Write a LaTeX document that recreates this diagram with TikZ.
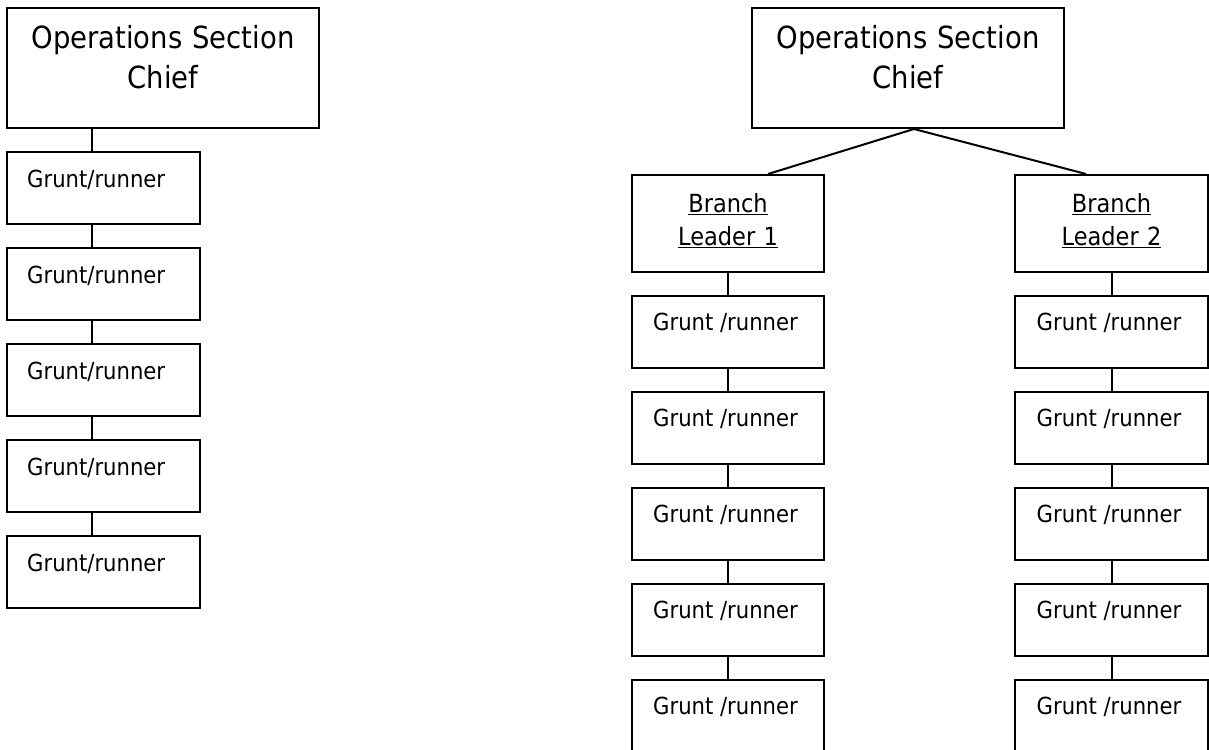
\documentclass[tikz,border=0pt]{standalone}
\usepackage{fontspec}
\setmainfont{DejaVu Sans}[FakeStretch=0.9]
\usetikzlibrary{calc}
\begin{document}
\begin{tikzpicture}[x=1pt,y=-1pt,
  boxbase/.style={draw=black, line width=2pt, rectangle, inner sep=0pt, anchor=north west},
  chiefbox/.style={boxbase, minimum width=312pt, minimum height=120pt},
  brbox/.style={boxbase, minimum width=192pt, minimum height=97pt},
  grbox/.style={boxbase, minimum width=193pt, minimum height=71.5pt},
  conn/.style={draw=black, line width=2pt},
  chieftxt/.style={inner sep=0pt, align=center, text width=312pt, anchor=base, font=\fontsize{30.5}{40}\selectfont},
  brtxt/.style={inner sep=0pt, align=center, text width=192pt, anchor=base, font=\fontsize{25}{33}\selectfont},
  grtxt/.style={inner sep=0pt, font=\fontsize{23.5}{28}\selectfont}]
\fill[white] (0,0) rectangle (1209,749);
\useasboundingbox (0,0) rectangle (1209,749);

% ---------- left chart ----------
\node[chiefbox] (lc) at (6,7) {};
\node[chieftxt] (lctxt) at ($(lc.north)+(0,42)$) {Operations Section\\Chief};
\coordinate (lx) at (92,0);
\foreach \k in {1,...,5}{
  \node[grbox] (g\k) at (6,{151+96*(\k-1)}) {};
  \node[grtxt, anchor=base west] (g\k txt) at ($(g\k.north west)+(21,36)$) {Grunt/runner};
}
\draw[conn] (lc.south -| lx) -- (g1.north -| lx);
\foreach \k in {1,...,4}{
  \pgfmathtruncatemacro{\n}{\k+1}
  \draw[conn] (g\k.south -| lx) -- (g\n.north -| lx);
}

% ---------- right chart ----------
\node[chiefbox] (rc) at (751,7) {};
\node[chieftxt] (rctxt) at ($(rc.north)+(0,42)$) {Operations Section\\Chief};
\node[brbox] (b1) at (631,174) {};
\node[brtxt] (b1txt) at ($(b1.north)+(0,38)$) {\underline{Branch}\\\underline{Leader 1}};
\node[brbox, minimum width=193pt] (b2) at (1014,174) {};
\node[brtxt, text width=193pt] (b2txt) at ($(b2.north)+(0,38)$) {\underline{Branch}\\\underline{Leader 2}};
\coordinate (apex) at ($(rc.south)+(6,0)$);
\coordinate (b1top) at ($(b1.north)+(40,0)$);
\coordinate (b2top) at ($(b2.north)+(-25.5,0)$);
\draw[conn] (b1top) -- (apex) -- (b2top);

\foreach \k in {1,...,5}{
  \node[grbox, minimum width=192pt] (a\k) at (631,{295+96*(\k-1)}) {};
  \node[grtxt, anchor=base] (a\k txt) at ($(a\k.north)+(-2.5,35.5)$) {Grunt /runner};
  \node[grbox] (c\k) at (1014,{295+96*(\k-1)}) {};
  \node[grtxt, anchor=base] (c\k txt) at ($(c\k.north)+(-2.5,35.5)$) {Grunt /runner};
}
\draw[conn] (b1.south) -- (a1.north);
\draw[conn] (b2.south) -- (c1.north);
\foreach \k in {1,...,4}{
  \pgfmathtruncatemacro{\n}{\k+1}
  \draw[conn] (a\k.south) -- (a\n.north);
  \draw[conn] (c\k.south) -- (c\n.north);
}
\end{tikzpicture}
\end{document}
